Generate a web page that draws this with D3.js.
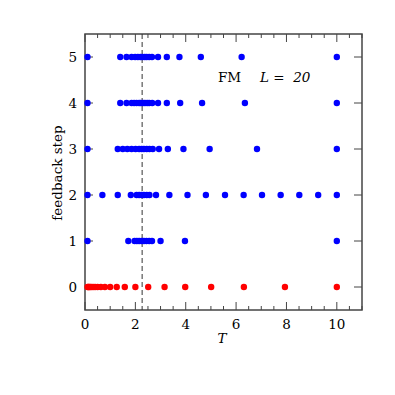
<!DOCTYPE html>
<html>
<head>
<meta charset="utf-8">
<script src="https://cdn.jsdelivr.net/npm/d3@7"></script>
<style>
  body { margin: 0; background: #fff; }
  text { font-family: "DejaVu Serif", serif; }
</style>
</head>
<body>
<script>
// feedback step vs T, FM L = 20
var steps = [0, 1, 2, 3, 4, 5];

var temps0 = [0.1, 0.13, 0.16, 0.2, 0.25, 0.32, 0.4, 0.5, 0.63, 0.79, 1.0, 1.26, 1.58, 2.0, 2.51, 3.16, 3.98, 5.01, 6.31, 7.94, 10];
var temps1 = [0.1, 1.72, 1.97, 2.06, 2.15, 2.25, 2.34, 2.44, 2.55, 2.66, 3.0, 3.97, 10];
var temps2 = [0.1, 0.69, 1.3, 1.82, 2.05, 2.15, 2.25, 2.34, 2.45, 2.56, 2.82, 3.35, 4.07, 4.8, 5.56, 6.3, 7.03, 7.77, 8.51, 9.26, 10];
var temps3 = [0.1, 1.3, 1.5, 1.68, 1.85, 2.01, 2.15, 2.25, 2.34, 2.45, 2.56, 2.69, 2.94, 3.29, 3.91, 4.95, 6.83, 10];
var temps4 = [0.1, 1.4, 1.65, 1.85, 1.95, 2.05, 2.15, 2.22, 2.3, 2.38, 2.47, 2.55, 2.67, 2.9, 3.25, 3.78, 4.65, 6.35, 10];
var temps5 = [0.1, 1.4, 1.65, 1.85, 1.99, 2.1, 2.2, 2.28, 2.37, 2.45, 2.55, 2.66, 2.9, 3.25, 3.75, 4.6, 6.22, 10];
var allTemps = [temps0, temps1, temps2, temps3, temps4, temps5];

var tc = 2.269;
var xTicks = [0, 2, 4, 6, 8, 10];

var margin = {top: 34, right: 33, bottom: 85, left: 85};
var width = 395 - margin.left - margin.right;
var height = 395 - margin.top - margin.bottom;

var svg = d3.select("body").append("svg")
    .attr("width", 395)
    .attr("height", 395);

var g = svg.append("g")
    .attr("transform", "translate(" + margin.left + "," + margin.top + ")");

var x = d3.scaleLinear().domain([0, 11]).range([0, width]);
var y = d3.scaleLinear().domain([-0.5, 5.5]).range([height, 0]);

var axisColor = "#444";
var fs = 13.5;

// minor + major ticks, all four sides, pointing inward
var minorX = d3.range(0, 11.01, 0.5);
function drawTicksX(yPos, dir) {
    g.selectAll(null).data(minorX).enter().append("line")
        .attr("x1", function(d) { return x(d); })
        .attr("x2", function(d) { return x(d); })
        .attr("y1", yPos)
        .attr("y2", function(d) { return yPos + dir * (d % 2 === 0 ? 8 : 4); })
        .attr("stroke", axisColor)
        .attr("stroke-width", 1);
}
drawTicksX(height, -1);
drawTicksX(0, 1);

function drawTicksY(xPos, dir) {
    g.selectAll(null).data(steps).enter().append("line")
        .attr("y1", function(d) { return y(d); })
        .attr("y2", function(d) { return y(d); })
        .attr("x1", xPos)
        .attr("x2", xPos + dir * 8)
        .attr("stroke", axisColor)
        .attr("stroke-width", 1);
}
drawTicksY(0, 1);
drawTicksY(width, -1);

g.append("rect")
    .attr("width", width)
    .attr("height", height)
    .attr("fill", "none")
    .attr("stroke", axisColor)
    .attr("stroke-width", 1.5);

// tick labels
g.selectAll(".xl").data(xTicks).enter().append("text")
    .attr("class", "xl")
    .attr("x", function(d) { return x(d); })
    .attr("y", height + 19)
    .attr("text-anchor", "middle")
    .attr("font-size", fs)
    .text(function(d) { return d; });

g.selectAll(".yl").data(steps).enter().append("text")
    .attr("class", "yl")
    .attr("x", -8)
    .attr("y", function(d) { return y(d) + 5; })
    .attr("text-anchor", "end")
    .attr("font-size", fs)
    .text(function(d) { return d; });

// dashed critical line
g.append("line")
    .attr("x1", x(tc)).attr("x2", x(tc))
    .attr("y1", 0).attr("y2", height)
    .attr("stroke", "#333")
    .attr("stroke-width", 1)
    .attr("stroke-dasharray", "5,3");

// points
allTemps.forEach(function(arr, k) {
    g.selectAll(null).data(arr).enter().append("circle")
        .attr("cx", function(d) { return x(d); })
        .attr("cy", y(steps[k]))
        .attr("r", 3.2)
        .attr("fill", k === 0 ? "#ff0000" : "#0000ff");
});

// labels
svg.append("text")
    .attr("x", 57)
    .attr("y", 173)
    .attr("transform", "rotate(-90,57,173)")
    .attr("text-anchor", "middle")
    .attr("dy", "0.35em")
    .attr("font-size", fs)
    .text("feedback step");

svg.append("text")
    .attr("x", 222)
    .attr("y", 343)
    .attr("text-anchor", "middle")
    .attr("font-size", fs)
    .attr("font-style", "italic")
    .text("T");

var lab = svg.append("text")
    .attr("x", 218)
    .attr("y", 82)
    .attr("font-size", fs);
lab.append("tspan").text("FM");
lab.append("tspan").attr("x", 260).attr("font-style", "italic").text("L");
lab.append("tspan").attr("xml:space", "preserve").text(" =  ");
lab.append("tspan").attr("font-style", "italic").text("20");
</script>
</body>
</html>
